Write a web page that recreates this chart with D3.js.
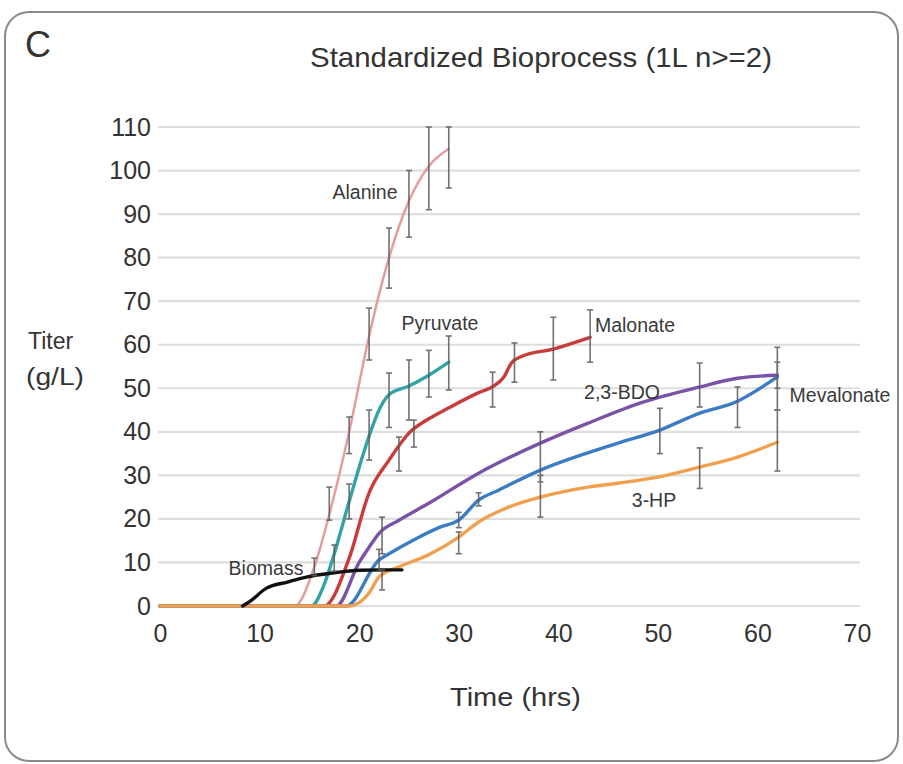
<!DOCTYPE html>
<html><head><meta charset="utf-8">
<script src="https://cdn.jsdelivr.net/npm/d3@7"></script>
<style>body{margin:0;background:#fff}svg{display:block}</style>
</head><body>
<svg id="chart" width="903" height="764"></svg>
<script>
// ---- data ----
const xTicks = [0, 10, 20, 30, 40, 50, 60, 70];
const yTicks = [0, 10, 20, 30, 40, 50, 60, 70, 80, 90, 100, 110];

const alanineT = [0, 13.5, 15.5, 17, 19, 21, 23, 25, 27, 29];
const alanineV = [0, 0, 9, 21, 40, 62, 80, 93, 101, 105];
const alanineErr = [[15.5, 7, 11], [17, 19.7, 27.3], [19, 35, 43.4], [21, 56.5, 68.4], [23, 73, 86.8], [25, 84.7, 100], [27, 91, 110], [29, 96, 110]];

const pyruvateT = [0, 15.2, 16.5, 17.5, 19, 21, 22, 23, 25, 27, 29];
const pyruvateV = [0, 0, 5, 12, 24, 39, 45, 48.5, 50.5, 53, 56];
const pyruvateErr = [[17.5, 8, 14], [19, 20, 28], [21, 33.5, 45], [23, 41, 53.5], [25, 42.7, 56.5], [27, 48, 58.7], [29, 49.6, 62]];

const malonateT = [0, 16.5, 19, 21, 23, 25, 27, 29, 32, 33.5, 34.5, 35.3, 36.3, 39.5, 43.2];
const malonateV = [0, 0, 11, 26, 33.5, 39.7, 43, 45.5, 49, 50.5, 52.5, 55.8, 57.3, 59, 61.7];
const malonateErr = [[24, 31, 38.8], [25.5, 36.5, 42.7], [33.4, 45.7, 53.7], [35.6, 51.4, 60.4], [39.5, 51.9, 66.3], [43.2, 56, 68]];

const bdoT = [0, 17.7, 20, 21, 22, 24, 27, 32, 38.2, 43, 48.2, 54.2, 58, 62];
const bdoV = [0, 0, 10, 13.5, 16.7, 19.7, 23.6, 30.5, 37.4, 42, 46.6, 50.3, 52.3, 53];
const bdoErr = [[22.3, 12, 20.4], [38.2, 28.5, 40], [54.2, 45.7, 55.8], [62, 50, 56]];

const mevalonateT = [0, 18.7, 22, 23, 26, 28, 30, 32, 34, 38.2, 46, 50.2, 54.2, 58, 60, 62];
const mevalonateV = [0, 0, 10.6, 12, 15.8, 18, 19.7, 24.3, 26.6, 31.2, 37.4, 40.4, 44.3, 47, 49.6, 52.6];
const mevalonateErr = [[22, 8, 13], [30, 18, 21.5], [32, 23, 26], [50.2, 35, 45.4], [58, 41, 50.3], [62, 45, 59.4]];

const hpT = [0, 19, 21, 22, 24, 27, 30, 32, 34.8, 38.2, 43, 46, 50, 54.2, 58, 62];
const hpV = [0, 0, 3, 6.7, 9, 11.8, 15.8, 19.3, 22.5, 25, 27.3, 28.2, 29.6, 31.9, 34.2, 37.6];
const hpErr = [[22.3, 3.7, 8.3], [30, 12, 17], [38.2, 20.4, 30], [54.2, 27, 36.3], [62, 31, 45]];

const biomassT = [8.3, 9, 10.7, 12.8, 14.8, 17.4, 20, 22.3, 24.3];
const biomassV = [0, 1, 4.1, 5.5, 6.7, 7.6, 8.2, 8.3, 8.3];

const seriesNames = ["Alanine", "Pyruvate", "Malonate", "2,3-BDO", "Mevalonate", "3-HP", "Biomass"];

// ---- build ----
const series = [
  {name: seriesNames[0], t: alanineT, v: alanineV, err: alanineErr, color: "#e59c9e", w: 2.5, lx: 365, ly: 199},
  {name: seriesNames[1], t: pyruvateT, v: pyruvateV, err: pyruvateErr, color: "#34a3a6", w: 3.4, lx: 440, ly: 330},
  {name: seriesNames[2], t: malonateT, v: malonateV, err: malonateErr, color: "#c83c3c", w: 3.4, lx: 635, ly: 332},
  {name: seriesNames[3], t: bdoT, v: bdoV, err: bdoErr, color: "#7a52a6", w: 3.4, lx: 622, ly: 399},
  {name: seriesNames[4], t: mevalonateT, v: mevalonateV, err: mevalonateErr, color: "#3b7cc2", w: 3.4, lx: 840, ly: 402},
  {name: seriesNames[5], t: hpT, v: hpV, err: hpErr, color: "#f0a04e", w: 3.4, lx: 654, ly: 507},
  {name: seriesNames[6], t: biomassT, v: biomassV, err: [], color: "#111111", w: 3.4, lx: 266, ly: 575}
];

const svg = d3.select("#chart");
const x = d3.scaleLinear().domain([0, 70]).range([160, 857]);
const y = d3.scaleLinear().domain([0, 110]).range([606, 127]);
const font = "'Liberation Sans', Arial, Helvetica, sans-serif";

// frame
svg.append("rect").attr("x", 5).attr("y", 12).attr("width", 893).attr("height", 749)
  .attr("rx", 24).attr("fill", "#fff").attr("stroke", "#8a8a8a").attr("stroke-width", 2);

// gridlines
svg.append("g").selectAll("line").data(yTicks).join("line")
  .attr("x1", 158).attr("x2", 860)
  .attr("y1", d => y(d)).attr("y2", d => y(d))
  .attr("stroke", "#dedede").attr("stroke-width", 2.2);

// axes (labels only)
const yAxis = d3.axisLeft(y).tickValues(yTicks).tickSize(0).tickPadding(0);
const gy = svg.append("g").attr("transform", "translate(151,0)").call(yAxis);
gy.select(".domain").remove();
gy.selectAll("text").attr("font-family", font).attr("font-size", 25).attr("fill", "#333");

const xAxis = d3.axisBottom(x).tickValues(xTicks).tickSize(0).tickPadding(10);
const gx = svg.append("g").attr("transform", "translate(0,614)").call(xAxis);
gx.select(".domain").remove();
gx.selectAll("text").attr("font-family", font).attr("font-size", 25).attr("fill", "#333");

// titles
svg.append("text").attr("x", 25).attr("y", 57).text("C")
  .attr("font-family", font).attr("font-size", 36).attr("fill", "#333");
svg.append("text").attr("x", 310).attr("y", 67)
  .attr("textLength", 462).attr("lengthAdjust", "spacingAndGlyphs")
  .text("Standardized Bioprocess (1L n>=2)")
  .attr("font-family", font).attr("font-size", 28).attr("fill", "#333");
svg.append("text").attr("x", 450).attr("y", 706)
  .attr("textLength", 131).attr("lengthAdjust", "spacingAndGlyphs")
  .text("Time (hrs)").attr("font-family", font).attr("font-size", 26).attr("fill", "#333");
svg.append("text").attr("x", 28).attr("y", 349).text("Titer")
  .attr("font-family", font).attr("font-size", 23).attr("fill", "#333");
svg.append("text").attr("x", 26).attr("y", 385).text("(g/L)")
  .attr("textLength", 58).attr("lengthAdjust", "spacingAndGlyphs")
  .attr("font-family", font).attr("font-size", 23).attr("fill", "#333");

// lines
const line = d3.line().x(d => x(d[0])).y(d => y(d[1])).curve(d3.curveMonotoneX);
const gl = svg.append("g");
series.forEach(s => {
  const pts = s.t.map((t, i) => [t, s.v[i]]);
  gl.append("path").datum(pts).attr("d", line).attr("fill", "none")
    .attr("stroke", s.color).attr("stroke-width", s.w).attr("stroke-linejoin", "round").attr("stroke-linecap", "round");
});

// error bars
const ge = svg.append("g").attr("stroke", "#5a5a5a").attr("stroke-width", 1.6).attr("opacity", 0.85);
series.forEach(s => {
  s.err.forEach(e => {
    const cx = x(e[0]);
    ge.append("line").attr("x1", cx).attr("x2", cx).attr("y1", y(e[1])).attr("y2", y(e[2]));
    ge.append("line").attr("x1", cx - 3).attr("x2", cx + 3).attr("y1", y(e[1])).attr("y2", y(e[1]));
    ge.append("line").attr("x1", cx - 3).attr("x2", cx + 3).attr("y1", y(e[2])).attr("y2", y(e[2]));
  });
});

// series labels
svg.append("g").selectAll("text").data(series).join("text")
  .attr("x", d => d.lx).attr("y", d => d.ly).attr("text-anchor", "middle")
  .text(d => d.name).attr("font-family", font).attr("font-size", 19.5).attr("fill", "#3a3a3a");
</script>
</body></html>
